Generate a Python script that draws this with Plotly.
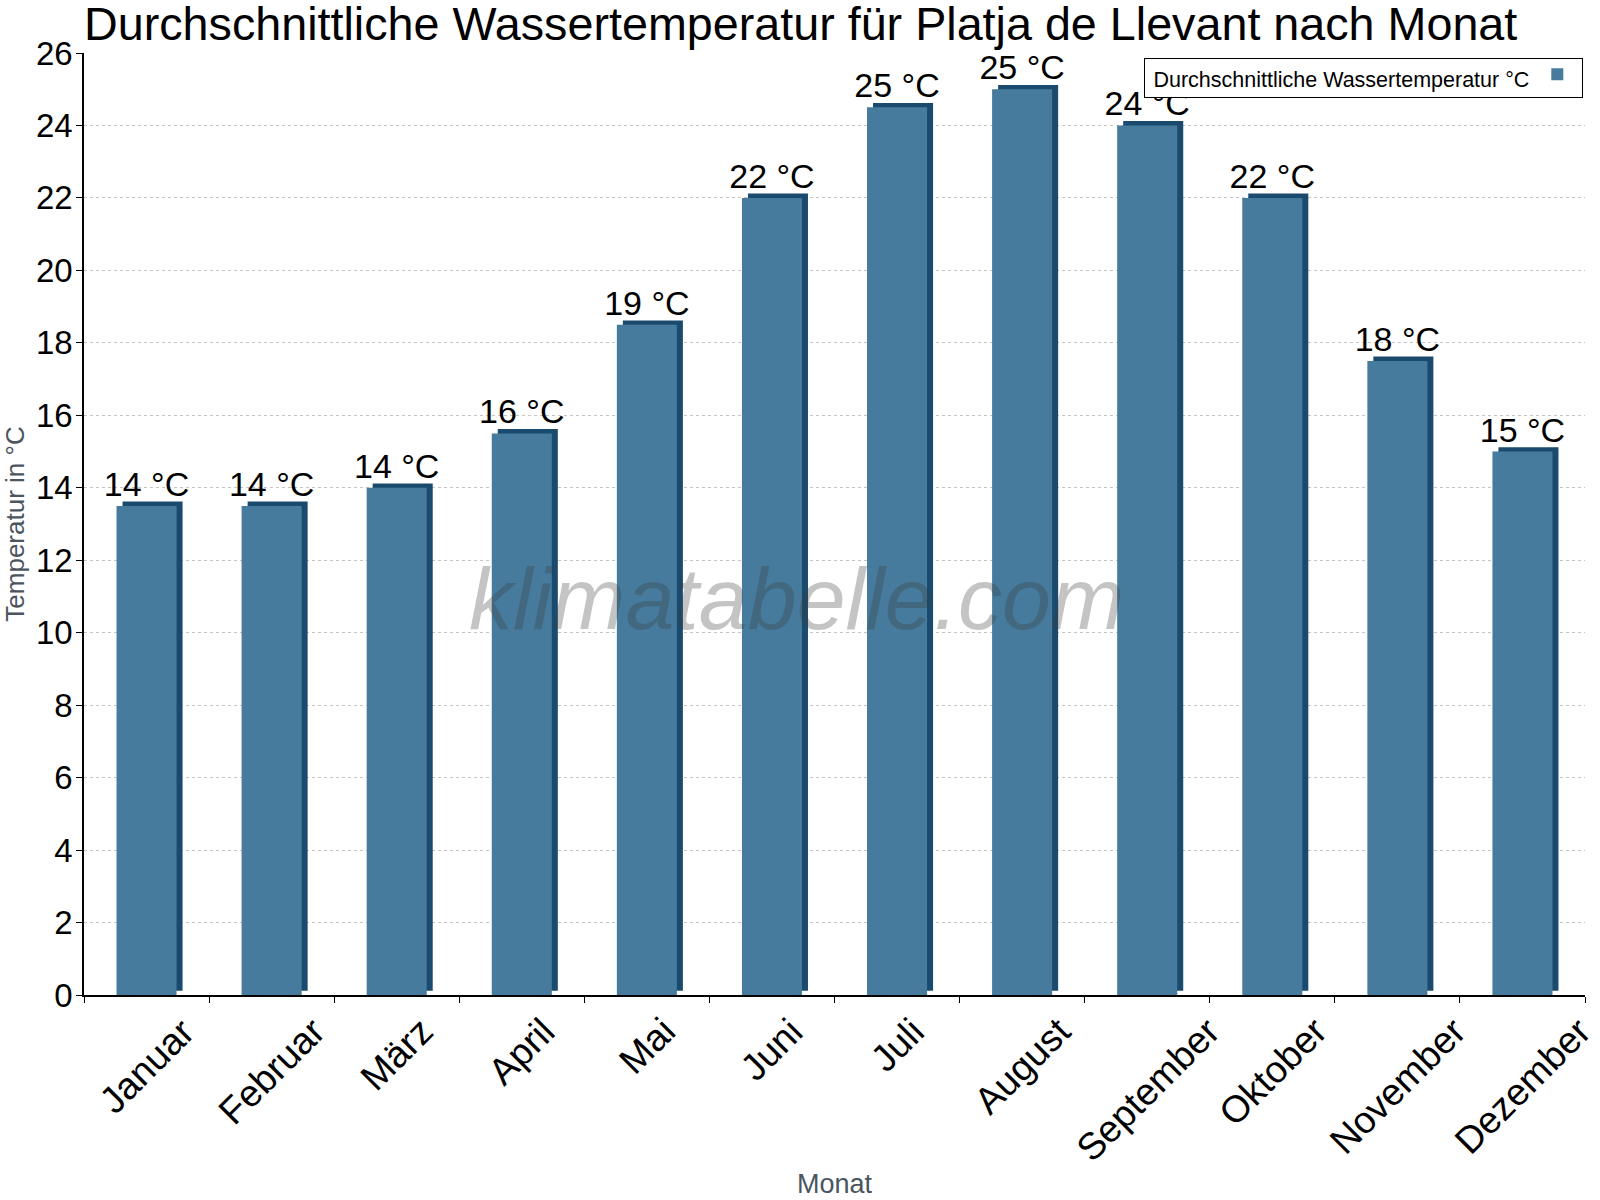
import plotly.graph_objects as go

months = ["Januar", "Februar", "März", "April", "Mai", "Juni", "Juli",
          "August", "September", "Oktober", "November", "Dezember"]
water_temp = [13.5, 13.5, 14, 15.5, 18.5, 22, 24.5, 25, 24, 22, 17.5, 15]
labels = ["14 °C", "14 °C", "14 °C", "16 °C", "19 °C", "22 °C", "25 °C",
          "25 °C", "24 °C", "22 °C", "18 °C", "15 °C"]
y_ticks = list(range(0, 27, 2))

FONT = "Liberation Sans, Arial, sans-serif"
FRONT = "#467b9d"
DARK = "#1a4b6e"
depth_y = 0.12
depth_x = 0.048
bw = 0.48

fig = go.Figure()
# dark "3D" side/top
fig.add_trace(go.Bar(
    x=months, y=water_temp, base=depth_y,
    width=bw, offset=-bw / 2 + depth_x,
    marker=dict(color=DARK, line=dict(width=0)),
    showlegend=False, hoverinfo="skip",
))
# front face
fig.add_trace(go.Bar(
    x=months, y=water_temp,
    width=bw, offset=-bw / 2,
    marker=dict(color=FRONT, line=dict(width=0)),
    text=labels, textposition="outside", constraintext="none",
    textfont=dict(family=FONT, size=34, color="black"),
    cliponaxis=False,
    name="", showlegend=True,
))

# rotated month labels, centred under each category
for m in months:
    fig.add_annotation(
        text=m, x=m, xref="x", y=-0.013, yref="paper",
        xanchor="center", yanchor="top", textangle=-45, showarrow=False,
        font=dict(family=FONT, size=37.5, color="black"),
    )

fig.add_annotation(
    text="klimatabelle.com", xref="paper", yref="paper", x=0.475, y=0.421,
    showarrow=False,
    font=dict(family=FONT, size=88, color="rgba(60,60,60,0.3)", style="italic"),
)

fig.update_layout(
    width=1600, height=1200,
    paper_bgcolor="white", plot_bgcolor="white",
    barmode="overlay",
    margin=dict(l=84, r=15, t=53, b=205, autoexpand=False),
    font=dict(family=FONT, color="black"),
    title=dict(
        text="Durchschnittliche Wassertemperatur für Platja de Llevant nach Monat",
        x=84 / 1600, xanchor="left", xref="container",
        y=1 - 24 / 1200, yanchor="middle", yref="container",
        font=dict(family=FONT, size=46.7, color="black"),
    ),
    legend=dict(
        x=0.999, y=0.995, xanchor="right", yanchor="top",
        bgcolor="white", bordercolor="black", borderwidth=1,
        font=dict(family=FONT, size=14, color="black"),
        title=dict(text="\u00a0Durchschnittliche Wassertemperatur °C", side="left",
                   font=dict(family=FONT, size=21.5, color="black")),
        itemwidth=30, tracegroupgap=0,
    ),
    xaxis=dict(
        automargin=False,
        range=[-0.5, len(months) - 0.5],
        showline=True, linecolor="black", linewidth=1.5,
        ticks="outside", ticklen=6, tickcolor="black", tickson="boundaries",
        showticklabels=False,
        title=dict(text="Monat", font=dict(family=FONT, size=27, color="#4a5560"),
                   standoff=178),
        showgrid=False,
    ),
    yaxis=dict(
        automargin=False,
        range=[0, 26], tickvals=y_ticks,
        showline=True, linecolor="black", linewidth=1.5,
        ticks="outside", ticklen=6, tickcolor="black", ticklabelstandoff=-3,
        tickfont=dict(family=FONT, size=33, color="black"),
        showgrid=True, gridcolor="#c4c4c4", griddash="dot", gridwidth=1,
        zeroline=False,
        title=dict(text="Temperatur in °C", font=dict(family=FONT, size=26, color="#4a5560"),
                   standoff=12),
    ),
)

fig.write_html("out.html", config={"displayModeBar": False},
               post_script="document.body.style.margin='0';")
